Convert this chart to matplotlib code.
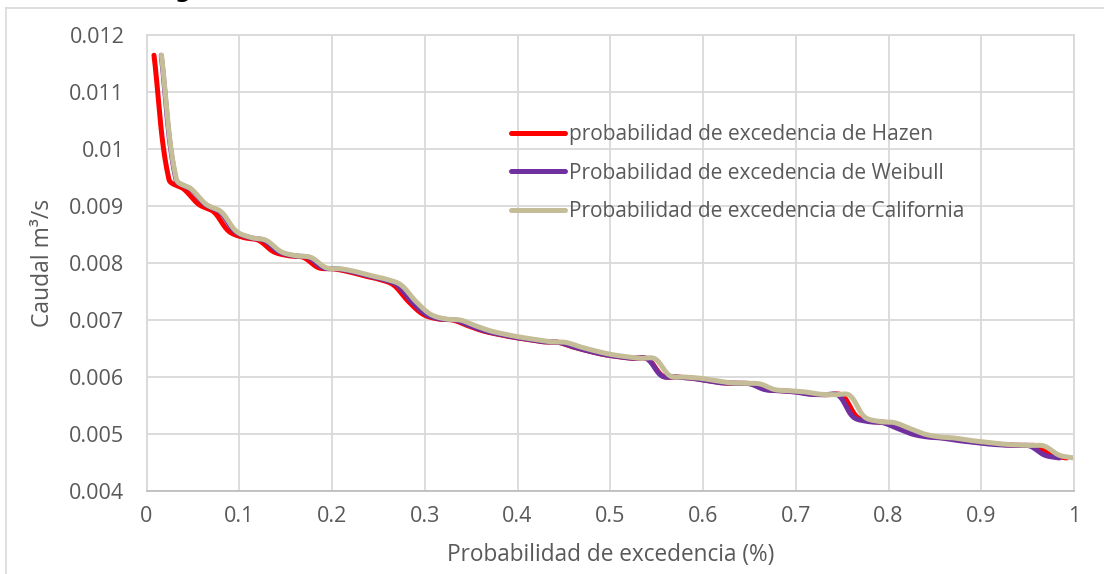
import numpy as np
import matplotlib
matplotlib.use("Agg")
import matplotlib.pyplot as plt

# ---- data (flows sorted descending, m = 1..n) ----
caudal = [0.01165, 0.00947, 0.00930, 0.00903, 0.00890, 0.00856, 0.00845, 0.00840,
          0.00820, 0.00813, 0.00810, 0.00792, 0.00790, 0.00785, 0.00778, 0.00772,
          0.00762, 0.00733, 0.00710, 0.00702, 0.00700, 0.00690, 0.00681, 0.00675,
          0.00670, 0.00666, 0.00662, 0.00661, 0.00653, 0.00646, 0.00640, 0.00636,
          0.00633, 0.00632, 0.00602, 0.00600, 0.00598, 0.00594, 0.00590, 0.00589,
          0.00588, 0.00578, 0.00576, 0.00574, 0.00570, 0.00569, 0.00568, 0.00530,
          0.00522, 0.00520, 0.00510, 0.00500, 0.00495, 0.00493, 0.00489, 0.00486,
          0.00483, 0.00481, 0.00480, 0.00479, 0.00463, 0.00458]
n = len(caudal)
rank = np.arange(1, n + 1)
p_hazen = (rank - 0.5) / n
p_weibull = rank / (n + 1)
p_california = rank / n

series_names = ["probabilidad de excedencia de Hazen",
                "Probabilidad de excedencia de Weibull",
                "Probabilidad de excedencia de California"]
series_colors = ["#FF0000", "#7030A0", "#C4BD97"]
x_ticks = [0, 0.1, 0.2, 0.3, 0.4, 0.5, 0.6, 0.7, 0.8, 0.9, 1]
x_ticklabels = ["0", "0.1", "0.2", "0.3", "0.4", "0.5", "0.6", "0.7", "0.8", "0.9", "1"]
y_ticks = [0.004, 0.005, 0.006, 0.007, 0.008, 0.009, 0.01, 0.011, 0.012]
y_ticklabels = ["0.004", "0.005", "0.006", "0.007", "0.008", "0.009", "0.01", "0.011", "0.012"]

W, H = 1104, 574
left, right, top, bottom = 146.5, 1074, 35.3, 491
XMIN, XMAX, YMIN, YMAX = 0.0, 1.0, 0.004, 0.012
sxp = (right - left) / (XMAX - XMIN)   # pixels per x unit
syp = (bottom - top) / (YMAX - YMIN)   # pixels per y unit


def smooth(x, y, k=24):
    """Excel-like smoothed line: Bezier segments whose tangents are scaled by
    the relative lengths of neighbouring segments (measured on screen)."""
    P = np.column_stack([np.asarray(x, float) * sxp, np.asarray(y, float) * syp])
    Pp = np.vstack([P[0], P, P[-1]])
    t = np.linspace(0, 1, k)[:, None]
    f = 1.0 / 6.0
    out = []
    for i in range(1, len(Pp) - 2):
        p0, p1, p2, p3 = Pp[i - 1], Pp[i], Pp[i + 1], Pp[i + 2]
        d01 = np.hypot(*(p1 - p0))
        d12 = np.hypot(*(p2 - p1))
        d23 = np.hypot(*(p3 - p2))
        f1 = 2 * f * d12 / (d01 + d12) if (d01 + d12) > 0 else 0
        f2 = 2 * f * d12 / (d12 + d23) if (d12 + d23) > 0 else 0
        c1 = p1 + (p2 - p0) * f1
        c2 = p2 - (p3 - p1) * f2
        seg = ((1 - t) ** 3) * p1 + 3 * ((1 - t) ** 2) * t * c1 + 3 * (1 - t) * t ** 2 * c2 + t ** 3 * p2
        out.append(seg if i == 1 else seg[1:])
    out = np.vstack(out)
    return out[:, 0] / sxp, out[:, 1] / syp


plt.rcParams['font.family'] = ['Open Sans', 'DejaVu Sans']
fig = plt.figure(figsize=(W / 100, H / 100), dpi=100)
fig.patch.set_facecolor("white")

# outer chart frame
fig.add_artist(plt.Line2D([6 / W, 6 / W], [0, 1 - 7.5 / H], transform=fig.transFigure,
                          color="#D9D9D9", lw=1.2))
fig.add_artist(plt.Line2D([6 / W, 1], [1 - 7.5 / H, 1 - 7.5 / H], transform=fig.transFigure,
                          color="#D9D9D9", lw=1.2))
# cut-off title (only the descender shows)
fig.text(183 / W, 1 + 1.5 / H, "g", fontsize=16, fontweight="bold", ha="center",
         va="baseline", color="black", family="DejaVu Sans")

ax = fig.add_axes([left / W, 1 - bottom / H, (right - left) / W, (bottom - top) / H])

xs = [p_hazen, p_weibull, p_california]
for xv, name, col in zip(xs, series_names, series_colors):
    sx, sy = smooth(xv, caudal)
    ax.plot(sx, sy, color=col, lw=3.6, label=name, solid_capstyle="round",
            solid_joinstyle="round")

ax.set_xlim(XMIN, XMAX)
ax.set_ylim(YMIN, YMAX)
ax.set_xticks(x_ticks)
ax.set_xticklabels(x_ticklabels)
ax.set_yticks(y_ticks)
ax.set_yticklabels(y_ticklabels)
ax.grid(True, color="#D9D9D9", lw=1.3)
ax.set_axisbelow(True)
for s in ["top", "right", "left"]:
    ax.spines[s].set_color("#D9D9D9")
    ax.spines[s].set_linewidth(1.3)
ax.spines["bottom"].set_color("#BFBFBF")
ax.spines["bottom"].set_linewidth(1.3)
ax.tick_params(length=0, labelsize=15.5, colors="#595959")
ax.tick_params(axis="x", pad=11)
ax.tick_params(axis="y", pad=16)

ax.set_xlabel("Probabilidad de excedencia (%)", fontsize=16.3, color="#595959", labelpad=11)
ax.set_ylabel("Caudal m³/s", fontsize=16.5, color="#595959", labelpad=10)

leg = ax.legend(loc="upper left",
                bbox_to_anchor=((511 - left) / (right - left), 1 - (124 - top) / (bottom - top)),
                frameon=False, fontsize=15, handlelength=2.6, handletextpad=0.2,
                labelspacing=0.85, borderaxespad=0, borderpad=0)
for t in leg.get_texts():
    t.set_color("#595959")

fig.savefig("out.png", dpi=100, facecolor="white")
